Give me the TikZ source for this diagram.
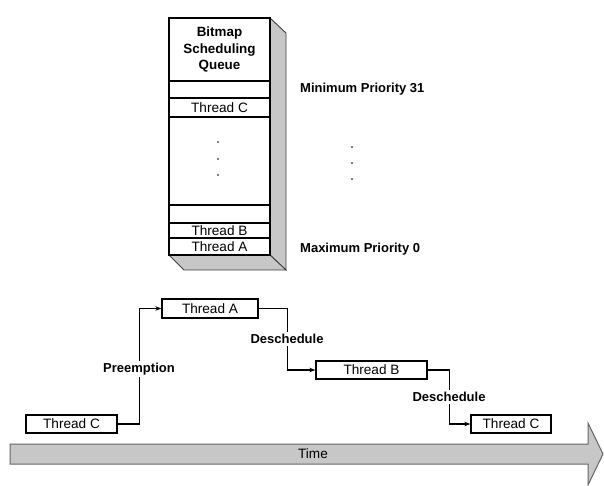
\documentclass[tikz,border=0pt]{standalone}
\usepackage{fontspec}
\setmainfont{Liberation Sans}
\usetikzlibrary{arrows.meta,calc}
\begin{document}
\begin{tikzpicture}[x=1pt,y=-1pt,
  qrow/.style={draw=black,line width=1.1pt,minimum width=101pt,inner sep=0pt,align=center,font=\fontsize{13.6}{15}\selectfont},
  tbox/.style={draw=black,line width=1.3pt,inner sep=0pt,font=\fontsize{13.6}{15}\selectfont},
  lbl/.style={inner sep=1pt,font=\bfseries\fontsize{13}{15}\selectfont},
  cut/.style={fill=white,inner sep=2pt,font=\bfseries\fontsize{13}{15}\selectfont},
  conn/.style={line width=1.2pt},
  tip/.style={-{Stealth[length=6pt,width=4.5pt]}},
  dot/.style={circle,fill=black,inner sep=0pt,minimum size=1.6pt},
  side/.style={fill=black!22,draw=black!75,line width=0.9pt}]
\useasboundingbox (0,0) rectangle (604,485);
% 3D side faces of queue
\filldraw[side] (270,18) -- (286,33) -- (286,270) -- (270,255) -- cycle;
\filldraw[side] (169,255) -- (270,255) -- (286,270) -- (184,270) -- cycle;
% queue rows
\node[qrow,minimum height=63pt,font=\bfseries\fontsize{13.4}{16.5}\selectfont] (hdr) at (219.5,49.5) {Bitmap\\Scheduling\\Queue};
\node[qrow,minimum height=17pt] (r31) at (219.5,89.5) {};
\node[qrow,minimum height=19pt] (rc) at (219.5,107.5) {Thread C};
\node[qrow,minimum height=88pt] (rmid) at (219.5,161) {};
\node[qrow,minimum height=18pt] (r1) at (219.5,214) {};
\node[qrow,minimum height=15pt] (rb) at (219.5,230.5) {Thread B};
\node[qrow,minimum height=17pt] (ra) at (219.5,246.5) {Thread A};
\node[dot] (d1) at (218,142) {};
\node[dot] (d2) at (218,159) {};
\node[dot] (d3) at (218,175) {};
% priority labels
\node[lbl,anchor=west] (minp) at (299,89) {Minimum Priority 31};
\node[lbl,anchor=west] (maxp) at (299,249) {Maximum Priority 0};
\node[dot] (e1) at (352,147) {};
\node[dot] (e2) at (352,163) {};
\node[dot] (e3) at (352,179) {};
% time arrow
\filldraw[fill=black!22,draw=black!60,line width=1pt] (10,444) -- (588,444) -- (588,423) -- (603,454) -- (588,485) -- (588,464) -- (10,464) -- cycle;
\node[font=\fontsize{13.6}{15}\selectfont] (time) at (313,454) {Time};
% timeline boxes
\node[tbox,minimum width=91pt,minimum height=18pt] (tc1) at (71.5,424) {Thread C};
\node[tbox,minimum width=96pt,minimum height=19pt] (ta) at (210,308.5) {Thread A};
\node[tbox,minimum width=111pt,minimum height=18pt] (tb) at (371.5,370) {Thread B};
\node[tbox,minimum width=80pt,minimum height=18pt] (tc2) at (511,424) {Thread C};
% connectors
\draw[conn,tip] (tc1.east) -- ++(22,0) coordinate (p1) |- (ta.west);
\draw[conn,tip] (ta.east) -- ++(29,0) coordinate (p2) |- (tb.west);
\draw[conn,tip] (tb.east) -- ++(22,0) coordinate (p3) |- (tc2.west);
\node[cut] (pre) at (139,369) {Preemption};
\node[cut] (des1) at (287,339) {Deschedule};
\node[cut] (des2) at (449,397) {Deschedule};
\end{tikzpicture}
\end{document}
